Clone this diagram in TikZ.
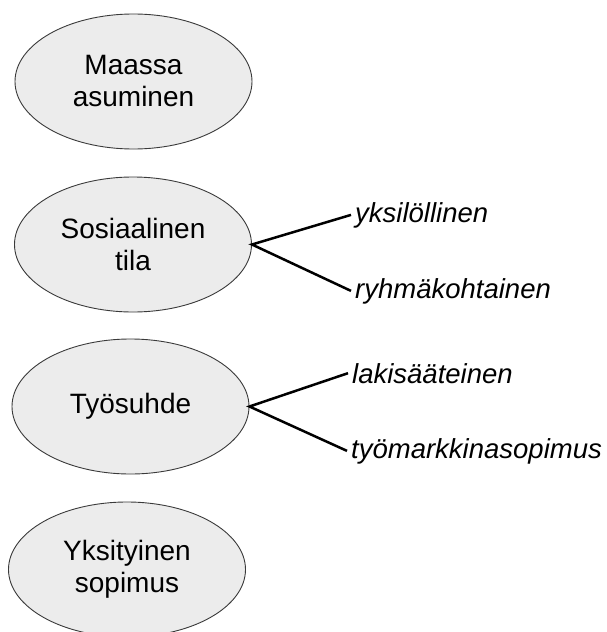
\documentclass[tikz,border=0pt]{standalone}
\usepackage{fontspec}
\setmainfont{Liberation Sans}
\usetikzlibrary{shapes.geometric}
\definecolor{ovalfill}{HTML}{ECECEC}
\definecolor{ovaldraw}{HTML}{3A3A3A}
\begin{document}
\begin{tikzpicture}
[x=1pt,y=-1pt,%
  lineDecorate/.style={-,line width=2.5pt,black},%
  ovalDecorate/.style={shape=ellipse,draw=ovaldraw,fill=ovalfill,line width=0.9pt,
    inner sep=0pt,minimum width=237pt,minimum height=135pt,align=center,
    font=\fontsize{28}{32}\selectfont},%
  labelDecorate/.style={anchor=base west,inner xsep=4pt,inner ysep=0pt,
    font=\fontsize{27.5}{31}\selectfont\itshape}]
\useasboundingbox (0,0) rectangle (606,632);
%% ovals
\node (maassa) at (133.5,81.5) [ovalDecorate] {Maassa\\asuminen};
\node (sosiaal) at (133,244.5) [ovalDecorate] {Sosiaalinen\\tila};
\node (tyosuhde) at (130.5,406.5) [ovalDecorate] {Työsuhde};
\node (yksit) at (127,569.5) [ovalDecorate] {Yksityinen\\sopimus};
%% labels on the right
\node (yksilo) at (351,222) [labelDecorate] {yksilöllinen};
\node (ryhma) at (351,298) [labelDecorate] {ryhmäkohtainen};
\node (lakis) at (348,383) [labelDecorate] {lakisääteinen};
\node (tyomark) at (347,458) [labelDecorate] {työmarkkinasopimus};
%% branches
\draw [lineDecorate] (yksilo.west) -- (sosiaal.east) -- (ryhma.west);
\draw [lineDecorate] (lakis.west) -- (tyosuhde.east) -- (tyomark.west);
\end{tikzpicture}
\end{document}
